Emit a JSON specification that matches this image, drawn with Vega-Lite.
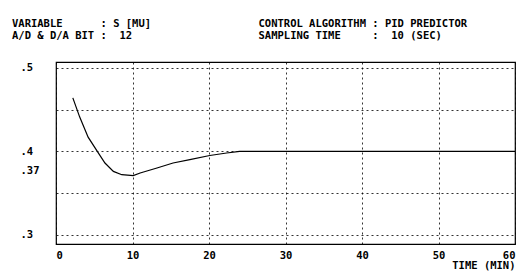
{
  "$schema": "https://vega.github.io/schema/vega-lite/v6.json",
  "width": 459,
  "height": 182,
  "autosize": {"type": "none"},
  "padding": {"left": 56, "top": 62, "right": 9, "bottom": 35},
  "background": "white",
  "title": {
    "text": [
      "VARIABLE\u00a0\u00a0\u00a0\u00a0\u00a0\u00a0:\u00a0S\u00a0[MU]\u00a0\u00a0\u00a0\u00a0\u00a0\u00a0\u00a0\u00a0\u00a0\u00a0\u00a0\u00a0\u00a0\u00a0\u00a0\u00a0\u00a0CONTROL\u00a0ALGORITHM\u00a0:\u00a0PID\u00a0PREDICTOR",
      "A/D\u00a0&\u00a0D/A\u00a0BIT\u00a0:\u00a0\u00a012\u00a0\u00a0\u00a0\u00a0\u00a0\u00a0\u00a0\u00a0\u00a0\u00a0\u00a0\u00a0\u00a0\u00a0\u00a0\u00a0\u00a0\u00a0\u00a0\u00a0SAMPLING\u00a0TIME\u00a0\u00a0\u00a0\u00a0\u00a0:\u00a0\u00a010\u00a0(SEC)"
    ],
    "anchor": "start",
    "align": "left",
    "frame": "group",
    "dx": -44,
    "offset": 21,
    "font": "DejaVu Sans Mono",
    "fontSize": 10.5,
    "fontWeight": "bold",
    "color": "black",
    "lineHeight": 12
  },
  "data": {
    "values": [
      {"t": 2.2, "v": 0.464},
      {"t": 3.1, "v": 0.441},
      {"t": 4.2, "v": 0.417},
      {"t": 5.4, "v": 0.400},
      {"t": 6.4, "v": 0.386},
      {"t": 7.5, "v": 0.376},
      {"t": 8.6, "v": 0.372},
      {"t": 10.1, "v": 0.371},
      {"t": 11.0, "v": 0.374},
      {"t": 13.2, "v": 0.380},
      {"t": 15.3, "v": 0.386},
      {"t": 17.5, "v": 0.390},
      {"t": 20.1, "v": 0.395},
      {"t": 22.3, "v": 0.398},
      {"t": 24.0, "v": 0.400},
      {"t": 30.0, "v": 0.400},
      {"t": 40.0, "v": 0.400},
      {"t": 50.0, "v": 0.400},
      {"t": 60.0, "v": 0.400}
    ]
  },
  "mark": {"type": "line", "color": "black", "strokeWidth": 1.2, "clip": true},
  "encoding": {
    "x": {
      "field": "t",
      "type": "quantitative",
      "scale": {"domain": [0, 60], "nice": false, "zero": false},
      "axis": {
        "values": [0, 10, 20, 30, 40, 50, 60],
        "title": "TIME (MIN)",
        "titleAnchor": "end",
        "titleAlign": "right",
        "titleFont": "DejaVu Sans Mono",
        "titleFontSize": 10.5,
        "titleFontWeight": "bold",
        "titleColor": "black",
        "titlePadding": 0,
        "labelFont": "DejaVu Sans Mono",
        "labelFontSize": 10.5,
        "labelFontWeight": "bold",
        "labelColor": "black",
        "labelPadding": 6,
        "labelFlush": true,
        "ticks": false,
        "tickSize": 0,
        "domain": false,
        "grid": true,
        "gridColor": "black",
        "gridDash": [2, 3],
        "gridWidth": 1,
        "gridOpacity": 0.8
      }
    },
    "y": {
      "field": "v",
      "type": "quantitative",
      "scale": {"domain": [0.289, 0.507], "nice": false, "zero": false},
      "axis": {
        "values": [0.3, 0.35, 0.37, 0.4, 0.45, 0.5],
        "labelExpr": "datum.value == 0.35 || datum.value == 0.45 ? '' : replace(format(datum.value, '.2~f'), '0.', '.')",
        "title": null,
        "labelFont": "DejaVu Sans Mono",
        "labelFontSize": 10.5,
        "labelFontWeight": "bold",
        "labelColor": "black",
        "labelAlign": "left",
        "labelPadding": 36,
        "labelOffset": {"condition": {"test": "datum.value == 0.37", "value": -6}, "value": 0},
        "ticks": false,
        "tickSize": 0,
        "domain": false,
        "grid": true,
        "gridColor": "black",
        "gridDash": [2, 3],
        "gridWidth": 1,
        "gridOpacity": {"condition": {"test": "datum.value == 0.37", "value": 0}, "value": 0.8}
      }
    }
  },
  "config": {
    "view": {"stroke": "black", "strokeWidth": 1.2}
  }
}
